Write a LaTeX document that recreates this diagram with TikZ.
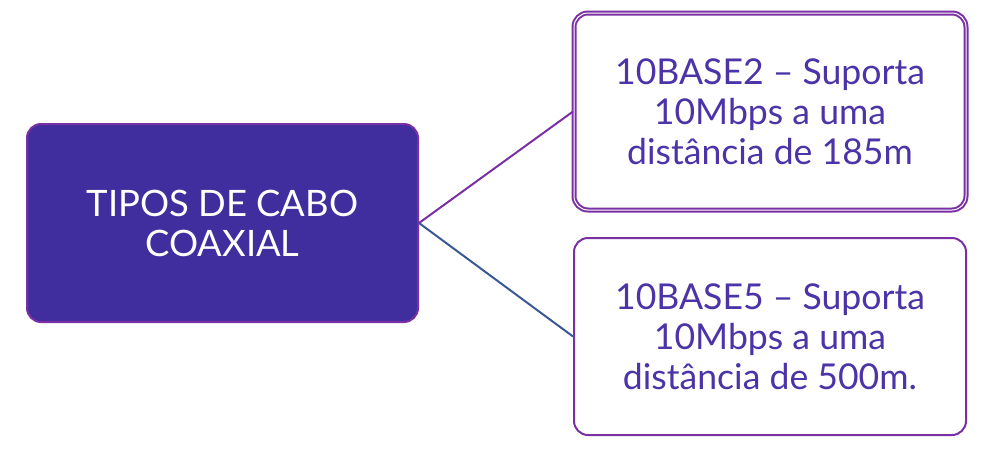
\documentclass[tikz,border=0pt]{standalone}
\usepackage{fontspec}
\setmainfont{Lato}
\usepackage{xcolor}
\usetikzlibrary{positioning}

\definecolor{coaxfill}{RGB}{64,46,158}
\definecolor{coaxedge}{RGB}{122,48,164}
\definecolor{coaxtext}{RGB}{76,52,168}
\definecolor{coaxblue}{RGB}{58,88,150}

\tikzset{
    mainbox/.style={draw=coaxedge, line width=1pt, fill=coaxfill, rounded corners=7pt,
        minimum width=195.5pt, minimum height=99pt, text=white, align=center,
        font=\fontsize{18.2}{20}\selectfont},
    typebox/.style={draw=coaxedge, line width=1pt, fill=white, rounded corners=7pt,
        minimum width=196pt, minimum height=98.5pt, text=coaxtext, align=center,
        font=\fontsize{17.8}{20}\selectfont}
}

\begin{document}
\begin{tikzpicture}[x=0.5pt,y=-0.5pt]
    \useasboundingbox (0,0) rectangle (985,451);
    % main node
    \node[mainbox] (coax) at (222.5,223) {TIPOS DE CABO\\COAXIAL};
    
    % cable types
    \node[typebox, double=white, double distance=0.5pt] (base2) at (770,111.5)
        {10BASE2 -- Suporta\\10Mbps a uma\\distância de 185m};
    \node[typebox] (base5) at (770,336.5)
        {10BASE5 -- Suporta\\10Mbps a uma\\distância de 500m.};
    
    % links
    \draw[coaxedge, line width=1pt] (coax.east) -- (base2.west);
    \draw[coaxblue, line width=1pt] (coax.east) -- (base5.west);
\end{tikzpicture}
\end{document}
